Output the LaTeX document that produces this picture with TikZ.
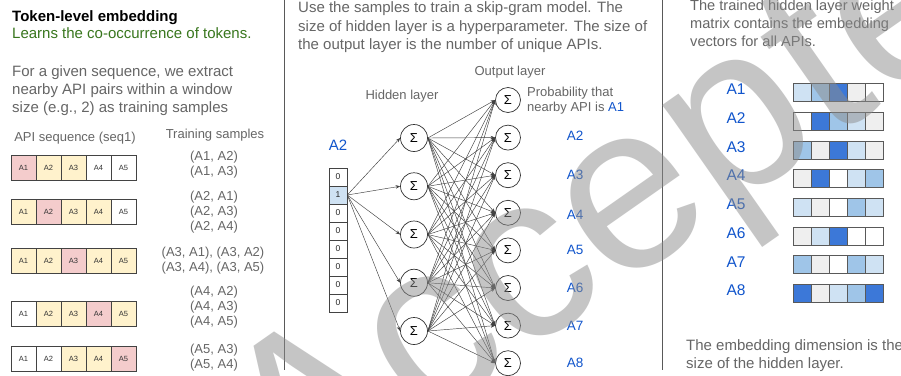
\documentclass[tikz,border=0pt]{standalone}
\usepackage{fontspec}
\setmainfont{Liberation Sans}
\usetikzlibrary{arrows.meta}
\definecolor{txt}{HTML}{666666}
\definecolor{ttl}{HTML}{000000}
\definecolor{grn}{HTML}{38761D}
\definecolor{apiblue}{HTML}{1155CC}
\definecolor{cp}{HTML}{F4CCCC}
\definecolor{cy}{HTML}{FFF2CC}
\definecolor{cw}{HTML}{FFFFFF}
\definecolor{cg}{HTML}{EFEFEF}
\definecolor{cl}{HTML}{CFE2F3}
\definecolor{cm}{HTML}{9FC5E8}
\definecolor{cd}{HTML}{3C78D8}
\definecolor{bord}{HTML}{434343}
\definecolor{sep}{HTML}{595959}
\definecolor{wmgray}{HTML}{8C8C8C}
\tikzset{
  body/.style={font=\fontsize{15}{18}\selectfont, text=txt, anchor=base west, inner sep=0pt},
  small/.style={font=\fontsize{13}{15}\selectfont, text=txt, inner sep=0pt, align=center},
  seqcell/.style={draw=bord, line width=0.6pt, minimum width=25pt, minimum height=25pt, inner sep=0pt, font=\fontsize{7.5}{8}\selectfont, text=black!80},
  vcell/.style={draw=bord, line width=0.6pt, minimum width=18pt, minimum height=18pt, inner sep=0pt, font=\fontsize{8.5}{9}\selectfont, text=black!85},
  neuron/.style={circle, draw=black!80, line width=0.7pt, inner sep=0pt, font=\fontsize{13}{13}\selectfont},
  mcell/.style={draw=black!65, line width=0.8pt, minimum width=18pt, minimum height=18pt, inner sep=0pt},
  lbl/.style={text=apiblue, inner sep=0pt},
  nnedge/.style={draw=black!75, line width=0.45pt, -{Stealth[length=4.5pt,width=3.5pt]}},
  sepline/.style={draw=sep, line width=0.9pt},
}
\begin{document}
\begin{tikzpicture}[x=1pt,y=-1pt]
\useasboundingbox[fill=white] (0,0) rectangle (901,375);

% ---------- left panel ----------
\node[body, text=ttl, font=\bfseries\fontsize{15}{18}\selectfont] (title) at (12,21) {Token-level embedding};
\node[body, text=grn] (sub) at (12,38.3) {Learns the co-occurrence of tokens.};
\node[body] (p1) at (12,76.5) {For a given sequence, we extract};
\node[body] (p2) at (12,94.3) {nearby API pairs within a window};
\node[body] (p3) at (12,112) {size (e.g., 2) as training samples};

\node[small] (seqhead) at (75,138) {API sequence (seq1)};
\node[small] (samphead) at (215,135) {Training samples};

\foreach \r/\yy/\cols in {1/167.5/{p,y,y,w,w}, 2/212/{y,p,y,y,w}, 3/260.5/{y,y,p,y,y}, 4/313.5/{w,y,y,p,y}, 5/359/{w,w,y,y,p}}{
  \foreach \c [count=\i] in \cols {
    \node[seqcell, fill=c\c] (s\r\i) at ({-1.5+25*\i}, \yy) {A\i};
  }
}

\node[small, font=\fontsize{13}{15}\selectfont] (t1) at (214,164.5) {(A1, A2)\\(A1, A3)};
\node[small, font=\fontsize{13}{15}\selectfont] (t2) at (214,212) {(A2, A1)\\(A2, A3)\\(A2, A4)};
\node[small, font=\fontsize{13}{15}\selectfont] (t3) at (213,260.5) {(A3, A1), (A3, A2)\\(A3, A4), (A3, A5)};
\node[small, font=\fontsize{13}{15}\selectfont] (t4) at (214,307) {(A4, A2)\\(A4, A3)\\(A4, A5)};
\node[small, font=\fontsize{13}{15}\selectfont] (t5) at (214,357.5) {(A5, A3)\\(A5, A4)};

% separators
\coordinate (sepAt) at (284,0);
\coordinate (sepAb) at (284,370);
\coordinate (sepBt) at (662,0);
\coordinate (sepBb) at (662,370);
\draw[sepline] (sepAt) -- (sepAb);
\draw[sepline] (sepBt) -- (sepBb);

% ---------- middle panel ----------
\node[body] (m1) at (298,12.7) {Use the samples to train a skip-gram model. The};
\node[body] (m2) at (298,31.2) {size of hidden layer is a hyperparameter. The size of};
\node[body] (m3) at (298,49.7) {the output layer is the number of unique APIs.};

\node[small, anchor=base] (outhead) at (510,75) {Output layer};
\node[small, anchor=base] (hidhead) at (402,99) {Hidden layer};
\node[small, anchor=base west] (prob1) at (527,96.7) {Probability that};
\node[small, anchor=base west] (prob2) at (527,111) {nearby API is \textcolor{apiblue}{A1}};

\node[lbl, font=\fontsize{15}{15}\selectfont] (inlbl) at (338,145) {A2};
\foreach \v/\f [count=\k] in {0/cw,1/cl,0/cw,0/cw,0/cw,0/cw,0/cw,0/cw}{
  \node[vcell, fill=\f] (v\k) at (338,{177+18*(\k-1)}) {\v};
}

\foreach \k in {1,...,5}{
  \node[neuron, minimum size=27pt] (h\k) at (414,{138+48.25*(\k-1)}) {Σ};
}
\foreach \k in {1,...,8}{
  \node[neuron, minimum size=25pt] (o\k) at (508,{100+37.6*(\k-1)}) {Σ};
}
\foreach \k in {1,...,5}{
  \draw[nnedge] (v2.east) -- (h\k.west);
}
\foreach \k in {1,...,5}{
  \foreach \j in {1,...,8}{
    \draw[nnedge] (h\k.east) -- (o\j.west);
  }
}
\foreach \n/\yy in {2/135.5, 3/174.5, 4/214.5, 5/249.5, 6/288, 7/326, 8/363}{
  \node[lbl, font=\fontsize{13.5}{14}\selectfont] (ol\n) at (575,\yy) {A\n};
}

% ---------- right panel ----------
\node[body, font=\fontsize{14.6}{18}\selectfont] (r1) at (690,10) {The trained hidden layer weight};
\node[body, font=\fontsize{14.6}{18}\selectfont] (r2) at (690,28.3) {matrix contains the embedding};
\node[body, font=\fontsize{14.6}{18}\selectfont] (r3) at (690,46) {vectors for all APIs.};

\foreach \r/\cols in {1/{l,m,d,g,w}, 2/{w,d,m,l,g}, 3/{m,g,d,l,g}, 4/{g,d,w,l,m}, 5/{l,g,w,m,l}, 6/{g,l,d,w,w}, 7/{m,g,w,m,l}, 8/{d,g,l,m,d}}{
  \node[lbl, font=\fontsize{15.5}{16}\selectfont] (el\r) at (736,{89.5+28.7*(\r-1)}) {A\r};
  \foreach \c [count=\i] in \cols {
    \node[mcell, fill=c\c] (e\r\i) at ({784+18*\i},{92.5+28.7*(\r-1)}) {};
  }
}

\node[body] (b1) at (686,350) {The embedding dimension is the};
\node[body] (b2) at (686,368) {size of the hidden layer.};

% ---------- watermark ----------
\node[rotate=35, anchor=base west, inner sep=0pt, text=wmgray, opacity=0.5, font=\fontsize{236}{236}\selectfont] (wmk) at (292,518) {Accepted};
\end{tikzpicture}
\end{document}
